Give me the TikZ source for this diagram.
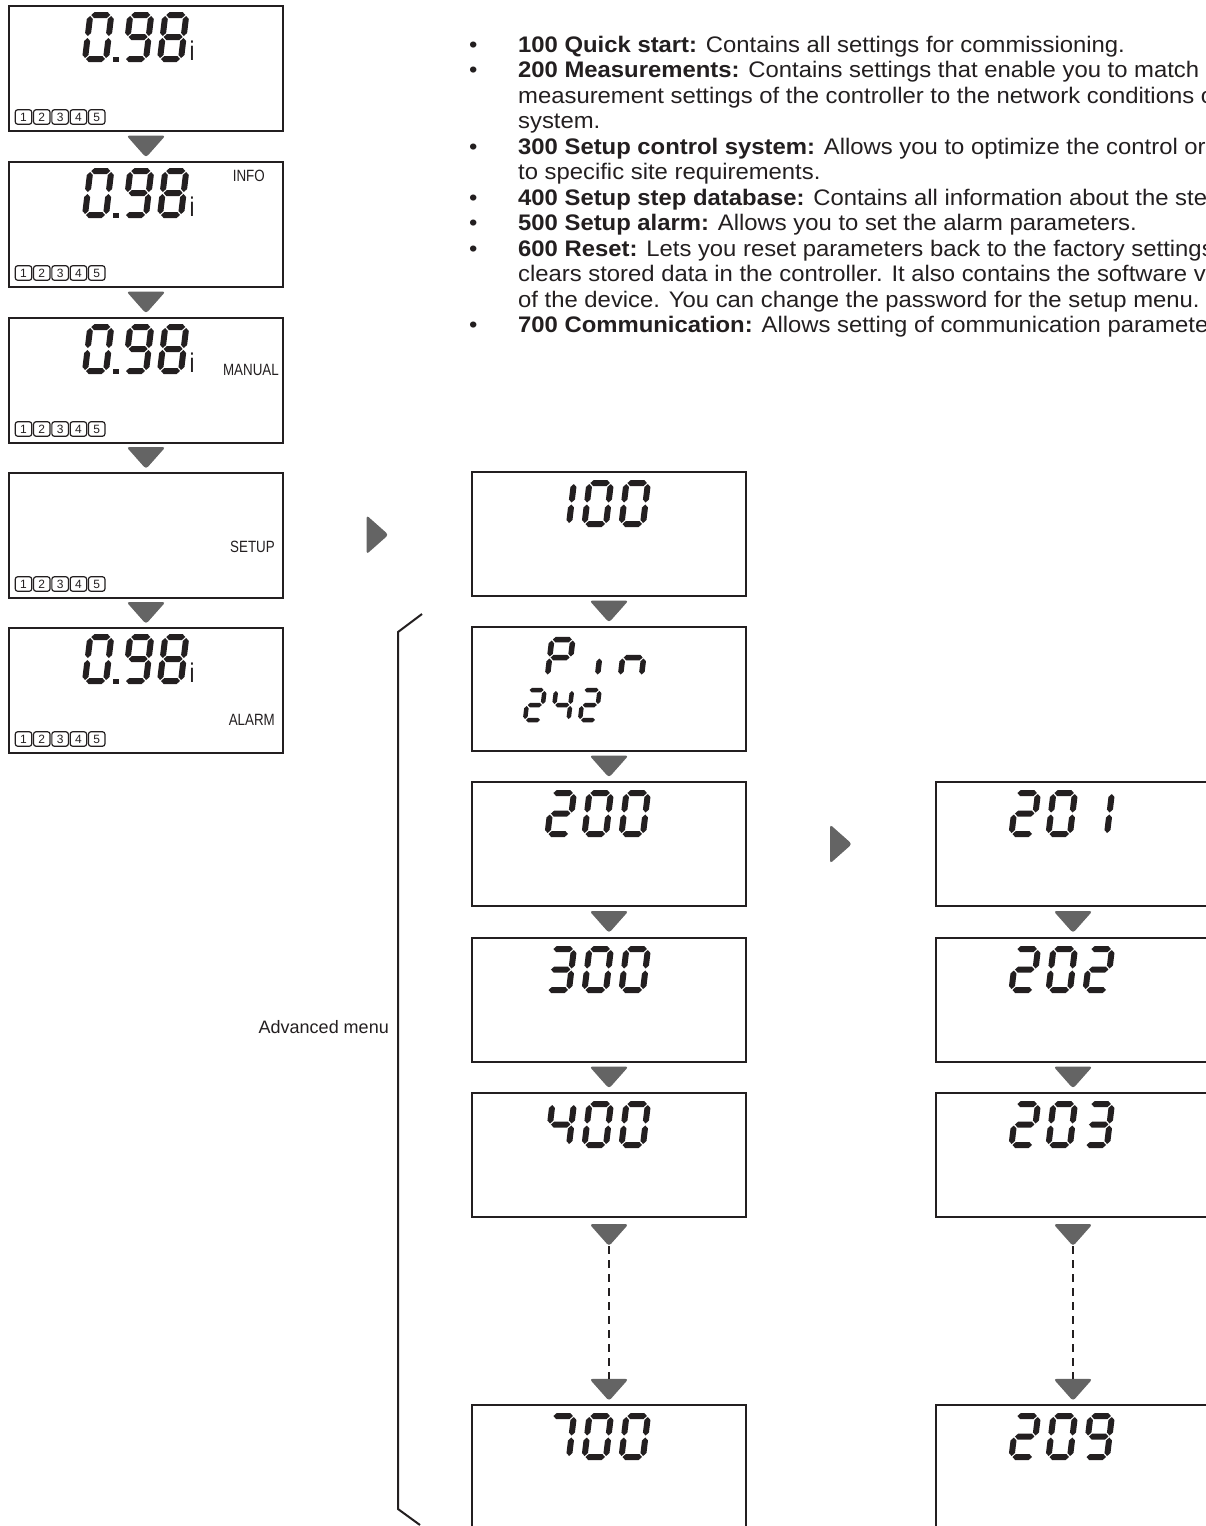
\documentclass[tikz,border=0pt]{standalone}
\usepackage{fontspec}
\setmainfont{Liberation Sans}
\newfontfamily\narrowfont[FakeStretch=0.82]{Liberation Sans}
\newfontfamily\bodyfont[FakeStretch=1.06]{Liberation Sans}
\usetikzlibrary{calc}
\definecolor{ink}{RGB}{35,31,32}
\definecolor{arrowgray}{RGB}{100,100,100}
% seven-segment helpers (local coordinates: y up)
\newcommand\hseg[3]{\fill[ink] ({#1},{#3}) -- ({#1+\zh},{#3-\zh}) -- ({#2-\zh},{#3-\zh}) -- ({#2},{#3}) -- ({#2-\zh},{#3+\zh}) -- ({#1+\zh},{#3+\zh}) -- cycle;}
\newcommand\vseg[3]{\fill[ink] ({#1},{#2}) -- ({#1+\zh},{#2+\zh}) -- ({#1+\zh},{#3-\zh}) -- ({#1},{#3}) -- ({#1-\zh},{#3-\zh}) -- ({#1-\zh},{#2+\zh}) -- cycle;}
\newcommand\SGa{\hseg{\zg}{\zW-\zg}{\zH}}
\newcommand\SGb{\vseg{\zW}{\zH/2+\zg}{\zH-\zg}}
\newcommand\SGc{\vseg{\zW}{\zg}{\zH/2-\zg}}
\newcommand\SGd{\hseg{\zg}{\zW-\zg}{0}}
\newcommand\SGe{\vseg{0}{\zg}{\zH/2-\zg}}
\newcommand\SGf{\vseg{0}{\zH/2+\zg}{\zH-\zg}}
\newcommand\SGg{\hseg{\zg}{\zW-\zg}{\zH/2}}
\newcommand\sdig[6]{%
  \begin{scope}[shift={(#1,#2)},x=1pt,y=1pt,xslant=0.12]
    \def\zW{#3}\def\zH{#4}\pgfmathsetmacro\zh{#5/2}\def\zg{1.0}
    \foreach \s in {#6}{\csname SG\s\endcsname}
  \end{scope}}
\newcommand\zzset[3]{\def\zzW{#1}\def\zzH{#2}\def\zzT{#3}}
\newcommand\dg[3]{\sdig{#1}{#2}{\zzW}{\zzH}{\zzT}{#3}}
\newcommand\darr[1]{\fill[tri] ($(#1)+(-19.5,-11)$) -- ($(#1)+(19.5,-11)$) -- ($(#1)+(0,11)$) -- cycle;}
\newcommand\rarr[1]{\fill[tri] ($(#1)+(-11,-19.5)$) -- ($(#1)+(11,0)$) -- ($(#1)+(-11,19.5)$) -- cycle;}
\begin{document}
\begin{tikzpicture}[x=1pt,y=-1pt,
  lcd/.style={draw=ink, line width=2.2pt, minimum width=274pt, minimum height=125pt, inner sep=0pt, fill=white},
  numbox/.style={draw=ink, line width=1.2pt, rounded corners=2.5pt, minimum width=16.5pt, minimum height=14.5pt, inner sep=0pt, text=ink, font=\fontsize{12}{12}\selectfont},
  tri/.style={fill=arrowgray, rounded corners=3pt},
  lab/.style={inner sep=0pt, anchor=base east, text=ink, font=\narrowfont\fontsize{16.3}{16}\selectfont},
  txt/.style={inner sep=0pt, anchor=base west, text=ink, font=\bodyfont\fontsize{22.5}{25}\selectfont},
  dashline/.style={draw=ink, line width=2.5pt, dash pattern=on 8pt off 6pt},
]
\useasboundingbox (0,0) rectangle (1206,1526);
\clip (0,0) rectangle (1206,1526);
\fill[white] (0,0) rectangle (1206,1526);

% ---------- left column ----------
\foreach \i/\T in {1/6,2/162,3/318,4/473,5/628}{
  \node[lcd] (L\i) at (146,\T+62.5) {};
  \foreach \k in {1,...,5}{
    \node[numbox] (L\i n\k) at ({23.5+(\k-1)*18.3},\T+111) {\k};
  }
}
\zzset{21}{44}{6}
\foreach \i/\T in {1/6,2/162,3/318,5/628}{
  \dg{85}{\T+53}{a,b,c,d,e,f}
  \dg{125}{\T+53}{a,b,c,d,f,g}
  \dg{160}{\T+53}{a,b,c,d,e,f,g}
  \fill[ink] (113,\T+51) rectangle (118.5,\T+56);
  \node[inner sep=0pt, anchor=base west, text=ink, font=\narrowfont\fontsize{27}{27}\selectfont] (Li\i) at (189.5,\T+54.5) {i};
}
\node[lab] (info) at (265,181) {INFO};
\node[lab] (manual) at (279,375) {MANUAL};
\node[lab] (setup) at (275,552) {SETUP};
\node[lab] (alarm) at (275,725) {ALARM};

% ---------- middle and right columns ----------
\foreach \i/\T in {1/472,2/627,3/782,4/938,5/1093,6/1405}{
  \node[lcd, minimum height=124pt] (M\i) at (609,\T+62) {};
}
\foreach \i/\T in {1/782,2/938,3/1093,4/1405}{
  \node[lcd, minimum height=124pt] (R\i) at (1073,\T+62) {};
}
\zzset{21.5}{41}{6}
% 100
\dg{547.5}{524}{b,c}\dg{584.5}{524}{a,b,c,d,e,f}\dg{621.5}{524}{a,b,c,d,e,f}
% 200
\dg{547.5}{834}{a,b,g,e,d}\dg{584.5}{834}{a,b,c,d,e,f}\dg{621.5}{834}{a,b,c,d,e,f}
% 300
\dg{547.5}{990}{a,b,g,c,d}\dg{584.5}{990}{a,b,c,d,e,f}\dg{621.5}{990}{a,b,c,d,e,f}
% 400
\dg{547.5}{1145}{f,g,b,c}\dg{584.5}{1145}{a,b,c,d,e,f}\dg{621.5}{1145}{a,b,c,d,e,f}
% 700
\dg{547.5}{1457}{a,b,c}\dg{584.5}{1457}{a,b,c,d,e,f}\dg{621.5}{1457}{a,b,c,d,e,f}
% 201
\dg{1011.5}{834}{a,b,g,e,d}\dg{1048.5}{834}{a,b,c,d,e,f}\dg{1085.5}{834}{b,c}
% 202
\dg{1011.5}{990}{a,b,g,e,d}\dg{1048.5}{990}{a,b,c,d,e,f}\dg{1085.5}{990}{a,b,g,e,d}
% 203
\dg{1011.5}{1145}{a,b,g,e,d}\dg{1048.5}{1145}{a,b,c,d,e,f}\dg{1085.5}{1145}{a,b,g,c,d}
% 209
\dg{1011.5}{1457}{a,b,g,e,d}\dg{1048.5}{1457}{a,b,c,d,e,f}\dg{1085.5}{1457}{a,b,c,d,f,g}
% Pin
\zzset{21}{36}{5.5}
\dg{547.5}{675.5}{a,b,f,g,e}\dg{597.5}{675.5}{e}\dg{620.5}{675.5}{e,g,c}
% 242
\zzset{16}{30}{4.5}
\dg{525}{720}{a,b,g,e,d}\dg{552.5}{720}{f,g,b,c}\dg{580}{720}{a,b,g,e,d}

% ---------- arrows ----------
\foreach \a/\b in {1/2,2/3,3/4,4/5}{
  \coordinate (aL\a) at ($(L\a.south)!0.5!(L\b.north)$);
  \darr{aL\a}
  \coordinate (aM\a) at ($(M\a.south)!0.5!(M\b.north)$);
  \darr{aM\a}
}
\foreach \a/\b in {1/2,2/3}{
  \coordinate (aR\a) at ($(R\a.south)!0.5!(R\b.north)$);
  \darr{aR\a}
}
\coordinate (aM5) at ($(M5.south)+(0,17)$);
\coordinate (bM6) at ($(M6.north)+(0,-14)$);
\coordinate (aR3) at ($(R3.south)+(0,17)$);
\coordinate (bR4) at ($(R4.north)+(0,-14)$);
\darr{aM5}\darr{bM6}\darr{aR3}\darr{bR4}
\draw[dashline] ($(aM5)+(0,11)$) -- ($(bM6)+(0,-11)$);
\draw[dashline] ($(aR3)+(0,11)$) -- ($(bR4)+(0,-11)$);
\coordinate (rA) at ($(L4.east)!0.5!(M1.west)$);
\coordinate (rB) at ($(M3.east)!0.5!(R1.west)$);
\rarr{rA}\rarr{rB}

% ---------- bracket ----------
\draw[ink, line width=2pt] (422,614) -- (398,632) -- (398,1509) -- (420,1525);
\node[inner sep=0pt, anchor=base east, text=ink, font=\fontsize{18}{18}\selectfont] (adv) at (389,1033) {Advanced menu};

% ---------- text block ----------
\foreach \y in {52,77.5,154,205,230.5,256,332.5}{
  \node[txt] at (469,\y) {•};
}
\node[txt] (t1) at (518,52) {\textbf{100 Quick start:} Contains all settings for commissioning.};
\node[txt] (t2) at (518,77.5) {\textbf{200 Measurements:} Contains settings that enable you to match};
\node[txt] (t3) at (518,103) {measurement settings of the controller to the network conditions of};
\node[txt] (t4) at (518,128.5) {system.};
\node[txt] (t5) at (518,154) {\textbf{300 Setup control system:} Allows you to optimize the control or};
\node[txt] (t6) at (518,179.5) {to specific site requirements.};
\node[txt] (t7) at (518,205) {\textbf{400 Setup step database:} Contains all information about the steps};
\node[txt] (t8) at (518,230.5) {\textbf{500 Setup alarm:} Allows you to set the alarm parameters.};
\node[txt] (t9) at (518,256) {\textbf{600 Reset:} Lets you reset parameters back to the factory settings};
\node[txt] (t10) at (518,281.5) {clears stored data in the controller. It also contains the software version};
\node[txt] (t11) at (518,307) {of the device. You can change the password for the setup menu.};
\node[txt] (t12) at (518,332.5) {\textbf{700 Communication:} Allows setting of communication parameters};
\end{tikzpicture}
\end{document}
